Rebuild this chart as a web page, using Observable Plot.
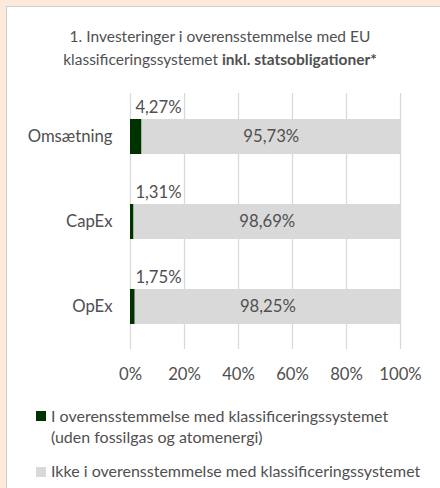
<!DOCTYPE html>
<html>
<head>
<meta charset="utf-8">
<script src="https://cdn.jsdelivr.net/npm/d3@7"></script>
<script src="https://cdn.jsdelivr.net/npm/@observablehq/plot@0.6"></script>
<style>
  html, body { margin: 0; padding: 0; }
  body { width: 440px; height: 488px; background: #fde9d9; position: relative; overflow: hidden; font-family: Lato, "Open Sans", sans-serif; color: #505050; }
  #panel { position: absolute; left: 6px; top: 6px; width: 440px; height: 488px; background: #fff; border-left: 1px solid #cfcfcf; border-top: 1px solid #cfcfcf; }
  .title { position: absolute; left: 0; width: 440px; text-align: center; font-size: 15.5px; line-height: 23px; top: 25px; }
  #chart { position: absolute; left: 0; top: 80px; }
  .leg { position: absolute; left: 51px; font-size: 16px; line-height: 21px; }
  .sw { position: absolute; width: 10px; height: 10px; left: 36px; }
</style>
</head>
<body>
<div id="panel"></div>
<div class="title">1. Investeringer i overensstemmelse med EU<br>klassificeringssystemet <b>inkl. statsobligationer*</b></div>
<div id="chart"></div>
<div id="legend"></div>
<script>
const categories = ["Omsætning", "CapEx", "OpEx"];
const seriesNames = [
  "I overensstemmelse med klassificeringssystemet (uden fossilgas og atomenergi)",
  "Ikke i overensstemmelse med klassificeringssystemet"
];
const alignedValues = [4.27, 1.31, 1.75];
const notAlignedValues = [95.73, 98.69, 98.25];
const xTicks = [0, 20, 40, 60, 80, 100];
const colors = ["#003300", "#d9d9d9"];
const textColor = "#505050";

const fmt = v => v.toFixed(2).replace(".", ",") + "%";

const rows = [];
categories.forEach((c, i) => {
  rows.push({cat: c, series: seriesNames[0], value: alignedValues[i]});
  rows.push({cat: c, series: seriesNames[1], value: notAlignedValues[i]});
});
const greenRows = rows.filter(d => d.series === seriesNames[0]);

const plot = Plot.plot({
  width: 440,
  height: 320,
  marginTop: 13,
  marginBottom: 51,
  marginLeft: 130,
  marginRight: 40,
  style: {fontFamily: "Lato, 'Open Sans', sans-serif", color: textColor, background: "transparent", overflow: "visible"},
  x: {domain: [0, 100], label: null, axis: null},
  y: {domain: categories, paddingInner: 0.59, paddingOuter: 0.295, label: null, axis: null},
  color: {domain: seriesNames, range: colors},
  marks: [
    Plot.ruleX(xTicks, {stroke: "#d9d9d9", strokeWidth: 1.3}),
    Plot.barX(rows, Plot.stackX({x: "value", y: "cat", fill: "series", z: "series", order: seriesNames})),
    Plot.text(rows, Plot.stackX({
      x: "value", y: "cat", z: "series", order: seriesNames,
      text: d => d.series === seriesNames[1] ? fmt(d.value) : "",
      fontSize: 16.7, fill: textColor
    })),
    Plot.text(greenRows, {
      x: 0, y: "cat", text: d => fmt(d.value),
      dx: 28, dy: -29, fontSize: 16.7, fill: textColor
    }),
    Plot.axisX(xTicks, {tickFormat: d => d + "%", tickSize: 0, tickPadding: 19, fontSize: 16.7, fill: textColor}),
    Plot.axisY(categories, {tickSize: 0, tickPadding: 18, fontSize: 16.7, fill: textColor})
  ]
});
document.getElementById("chart").appendChild(plot);

const leg = document.getElementById("legend");
const items = [
  {top: 405, sw: 411, html: "I overensstemmelse med klassificeringssystemet<br>(uden fossilgas og atomenergi)"},
  {top: 460, sw: 467, html: "Ikke i overensstemmelse med klassificeringssystemet"}
];
items.forEach((it, i) => {
  const s = document.createElement("div");
  s.className = "sw"; s.style.top = it.sw + "px"; s.style.background = colors[i];
  leg.appendChild(s);
  const t = document.createElement("div");
  t.className = "leg"; t.style.top = it.top + "px"; t.innerHTML = it.html;
  leg.appendChild(t);
});
</script>
</body>
</html>
